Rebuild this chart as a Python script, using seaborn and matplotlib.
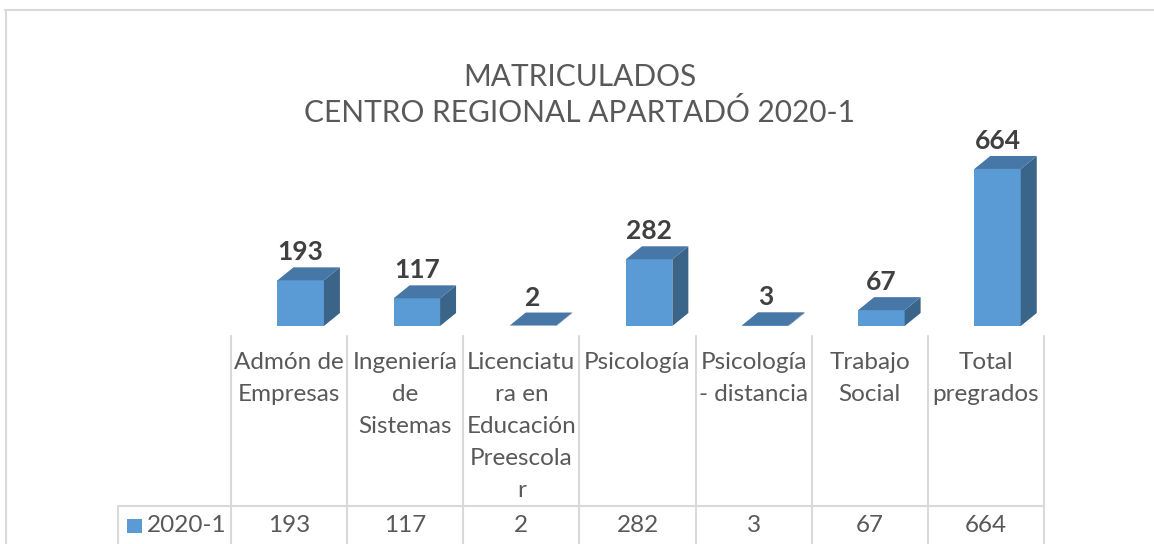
import matplotlib
matplotlib.use("Agg")
import matplotlib.pyplot as plt
import seaborn as sns
import pandas as pd
from matplotlib.patches import Polygon, Rectangle

# datos del gráfico
categorias = ["Admón de\nEmpresas", "Ingeniería\nde\nSistemas",
              "Licenciatu\nra en\nEducación\nPreescola\nr", "Psicología",
              "Psicología\n- distancia", "Trabajo\nSocial", "Total\npregrados"]
matriculados = [193, 117, 2, 282, 3, 67, 664]
serie = "2020-1"
titulo = "MATRICULADOS\nCENTRO REGIONAL APARTADÓ 2020-1"

df = pd.DataFrame({"programa": categorias, "valor": matriculados})

sns.set_style("white")
plt.rcParams['font.family'] = ['Lato', 'DejaVu Sans']

W, H = 1154, 544
fig = plt.figure(figsize=(W / 100, H / 100), dpi=100)

C_FRENTE = '#5B9BD5'
C_TAPA = '#4677A6'
C_LADO = '#3A6488'
C_LINEA = '#D9D9D9'
C_TEXTO = '#595959'

# marco del área del gráfico
fig.add_artist(plt.Line2D([5 / W, 1], [1 - 10 / H, 1 - 10 / H], color=C_LINEA, lw=1.5))
fig.add_artist(plt.Line2D([6 / W, 6 / W], [0, 1 - 10 / H], color=C_LINEA, lw=1.5))

# título
fig.text(579.5 / W, 1 - 95 / H, titulo, ha='center', va='center', fontsize=21.5,
         color=C_TEXTO, linespacing=1.32)

# barras (frente) con seaborn
x0_px, x1_px = 231, 1044
piso_px, techo_px = 326, 100
ax = fig.add_axes([x0_px / W, (H - piso_px) / H, (x1_px - x0_px) / W, (piso_px - techo_px) / H])
sns.barplot(data=df, x="programa", y="valor", order=categorias, color=C_FRENTE,
            saturation=1, width=0.4, ax=ax, edgecolor='none')
ax.set_xlim(-0.6, 6.4)
ax.set_ylim(0, (piso_px - techo_px) / 0.2365)
ax.set_axis_off()

# profundidad 3D (en píxeles -> datos)
px_x = (x1_px - x0_px) / 7.0
px_y = (piso_px - techo_px) / ax.get_ylim()[1]
dx = 16 / px_x
dy = 13 / px_y

for p in ax.patches[:len(matriculados)]:
    xa = p.get_x()
    xb = xa + p.get_width()
    h = p.get_height()
    ax.add_patch(Polygon([(xb, 0), (xb, h), (xb + dx, h + dy), (xb + dx, dy)],
                         closed=True, facecolor=C_LADO, edgecolor='none', clip_on=False))
    ax.add_patch(Polygon([(xa, h), (xb, h), (xb + dx, h + dy), (xa + dx, h + dy)],
                         closed=True, facecolor=C_TAPA, edgecolor='none', clip_on=False))
    ax.annotate(f"{h:.0f}", (xa + p.get_width() / 2, h), xytext=(0, 20),
                textcoords='offset pixels', ha='center', va='baseline',
                fontsize=19, fontweight='bold', color='#404040', annotation_clip=False)

# tabla de datos
tabla_top = 336
at = fig.add_axes([x0_px / W, 0, (x1_px - x0_px) / W, (H - tabla_top) / H])
at.set_xlim(-0.5, 6.5)
at.set_ylim(H, tabla_top)
at.set_axis_off()


def px2x(px):
    return -0.5 + (px - x0_px) / px_x


for k in range(len(categorias) + 1):
    at.plot([k - 0.5, k - 0.5], [tabla_top, H], color=C_LINEA, lw=1.5, clip_on=False)
at.plot([px2x(118), 6.5], [506, 506], color=C_LINEA, lw=1.5, clip_on=False)
at.plot([px2x(118), px2x(118)], [506, H], color=C_LINEA, lw=1.5, clip_on=False)

for i, (cat, v) in enumerate(zip(categorias, matriculados)):
    at.text(i, 352, cat, ha='center', va='top', fontsize=17.5, color=C_TEXTO,
            linespacing=1.64, clip_on=False)
    at.text(i, 525, str(v), ha='center', va='center', fontsize=17.5, color=C_TEXTO,
            clip_on=False)

at.add_patch(Rectangle((px2x(127), 519), 15 / px_x, 14, facecolor=C_FRENTE,
                       edgecolor='none', clip_on=False))
at.text(px2x(147), 525, serie, ha='left', va='center', fontsize=17.5, color=C_TEXTO,
        clip_on=False)

fig.savefig("out.png", dpi=100)
